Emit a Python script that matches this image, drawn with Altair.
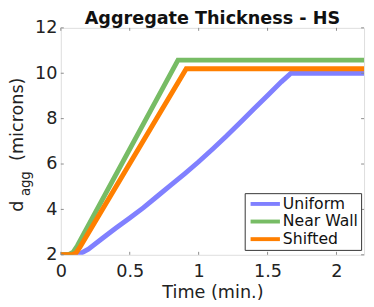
import altair as alt
import pandas as pd

# ---- data ----
uniform_t = [0.0, 0.10, 0.15, 0.20, 0.30, 0.40, 0.50, 0.60, 0.70, 0.80, 0.90, 1.00,
             1.10, 1.20, 1.30, 1.40, 1.50, 1.60, 1.67, 2.20]
uniform_d = [2.0, 2.02, 2.08, 2.25, 2.72, 3.18, 3.62, 4.08, 4.58, 5.08, 5.58, 6.10,
             6.65, 7.22, 7.82, 8.42, 9.02, 9.62, 10.0, 10.0]
nearwall_t = [0.0, 0.06, 0.09, 0.12, 0.85, 2.20]
nearwall_d = [2.0, 2.02, 2.12, 2.40, 10.58, 10.58]
shifted_t = [0.0, 0.08, 0.11, 0.14, 0.91, 2.20]
shifted_d = [2.0, 2.0, 2.08, 2.35, 10.2, 10.2]

series_names = ["Uniform", "Near Wall", "Shifted"]
series_colors = ["#8080FF", "#77BC65", "#FF7F00"]
x_ticks = [0, 0.5, 1, 1.5, 2]
y_ticks = [2, 4, 6, 8, 10, 12]

rows = []
for name, ts, ds in zip(series_names, [uniform_t, nearwall_t, shifted_t],
                        [uniform_d, nearwall_d, shifted_d]):
    for i, (t, d) in enumerate(zip(ts, ds)):
        rows.append({"series": name, "t": t, "d": d, "i": i})
df = pd.DataFrame(rows)

W, H = 310, 232
FONT = "DejaVu Sans"
GRAY = "#8a8a8a"

xs = alt.Scale(domain=[0, 2.2], nice=False, zero=False)
ys = alt.Scale(domain=[2, 12], nice=False, zero=False)

lines = alt.Chart(df).mark_line(strokeWidth=5, clip=True).encode(
    x=alt.X("t:Q", scale=xs,
            axis=alt.Axis(values=x_ticks, format="~g", title="Time (min.)", grid=False,
                          ticks=False, domain=False, labelFontSize=18, titleFontSize=18,
                          labelFont=FONT, titleFont=FONT, labelPadding=8,
                          titlePadding=4, titleFontWeight="normal", labelColor="#222",
                          titleColor="#222", labelFlush=False, labelOverlap=False)),
    y=alt.Y("d:Q", scale=ys,
            axis=alt.Axis(values=y_ticks, format="~g", title=None, grid=False, ticks=False,
                          domain=False, labelFontSize=18, labelFont=FONT,
                          labelPadding=4, labelColor="#222", labelOverlap=False,
                          labelFlush=False)),
    color=alt.Color("series:N", sort=series_names,
                    scale=alt.Scale(domain=series_names, range=series_colors),
                    legend=alt.Legend(title=None, orient="none", legendX=188, legendY=169,
                                      symbolType="M-3,0H3", symbolSize=100,
                                      symbolStrokeWidth=4, symbolFillColor="transparent",
                                      labelFontSize=16,
                                      labelFont=FONT, labelColor="#111",
                                      labelExpr="datum.label + ' '",
                                      strokeColor="#333", fillColor="white",
                                      padding=3, rowPadding=2, labelOffset=10,
                                      symbolOffset=10)),
    order="i:Q",
    detail="series:N",
)

xt = pd.DataFrame({"v": x_ticks})
yt = pd.DataFrame({"v": y_ticks})
tick_style = dict(color=GRAY, strokeWidth=1)
xb = alt.Chart(xt).mark_rule(**tick_style).encode(
    x=alt.X("v:Q", scale=xs), y=alt.value(H), y2=alt.value(H - 3))
xtop = alt.Chart(xt).mark_rule(**tick_style).encode(
    x=alt.X("v:Q", scale=xs), y=alt.value(0), y2=alt.value(3))
yl = alt.Chart(yt).mark_rule(**tick_style).encode(
    y=alt.Y("v:Q", scale=ys), x=alt.value(0), x2=alt.value(3))
yr = alt.Chart(yt).mark_rule(**tick_style).encode(
    y=alt.Y("v:Q", scale=ys), x=alt.value(W), x2=alt.value(W - 3))

# y-axis title with subscript, and chart title
ytitle_d = alt.Chart().mark_text(text="d", angle=270, align="left", baseline="alphabetic",
                                 font=FONT, fontSize=18, color="#222").encode(
    x=alt.value(-39), y=alt.value(188))
ytitle_sub = alt.Chart().mark_text(text="agg", angle=270, align="left", baseline="alphabetic",
                                   font=FONT, fontSize=13.5, color="#222").encode(
    x=alt.value(-31), y=alt.value(172))
ytitle_rest = alt.Chart().mark_text(text="(microns)", angle=270, align="left",
                                    baseline="alphabetic", font=FONT, fontSize=18,
                                    color="#222").encode(
    x=alt.value(-39), y=alt.value(136))
title = alt.Chart().mark_text(text="Aggregate Thickness - HS", align="center",
                              baseline="alphabetic", font=FONT, fontSize=18,
                              fontWeight="bold", color="#111").encode(
    x=alt.value(155), y=alt.value(-4))

chart = alt.layer(lines, xb, xtop, yl, yr, ytitle_d, ytitle_sub, ytitle_rest, title).properties(
    width=W, height=H,
    autosize=alt.AutoSizeParams(type="none"),
    padding={"left": 54, "top": 17, "right": 2, "bottom": 47},
).configure_view(stroke=GRAY, strokeWidth=1).configure(background="white")

chart.save("out.html", embed_options={"renderer": "svg", "actions": False})
